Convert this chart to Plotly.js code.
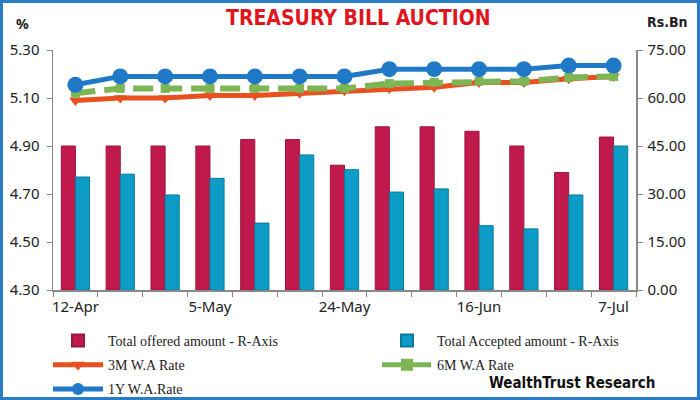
<!DOCTYPE html>
<html>
<head>
<meta charset="utf-8">
<script src="https://cdn.plot.ly/plotly-3.0.1.min.js"></script>
<style>
  html, body { margin: 0; padding: 0; background: #ffffff; }
  #wrap { position: relative; width: 700px; height: 400px; }
  #chart { width: 700px; height: 400px; }
  #frame { position: absolute; left: 0; top: 0; width: 700px; height: 400px; box-sizing: border-box; border: 3px solid #2a7cc7; pointer-events: none; }
</style>
</head>
<body>
<div id="wrap"><div id="chart"></div><div id="frame"></div></div>
<script>
// Auction dates (only every third one is labelled on the axis)
const dates = ["12-Apr","19-Apr","26-Apr","5-May","10-May","17-May","24-May","31-May","7-Jun","16-Jun","21-Jun","28-Jun","7-Jul"];
const shownLabels = ["12-Apr","5-May","24-May","16-Jun","7-Jul"];

// Rs.Bn (right axis)
const totalOffered  = [45, 45, 45, 45, 47, 47, 39, 51, 51, 49.6, 45, 36.7, 47.8];
const totalAccepted = [35.3, 36.2, 29.7, 34.9, 20.9, 42.2, 37.6, 30.6, 31.6, 20.1, 19.1, 29.7, 45];

// % (left axis)
const rate3M = [5.09, 5.10, 5.10, 5.11, 5.11, 5.12, 5.13, 5.14, 5.145, 5.165, 5.165, 5.18, 5.19];
const rate6M = [5.12, 5.14, 5.14, 5.14, 5.14, 5.14, 5.14, 5.16, 5.165, 5.17, 5.17, 5.185, 5.19];
const rate1Y = [5.155, 5.19, 5.19, 5.19, 5.19, 5.19, 5.19, 5.22, 5.22, 5.22, 5.22, 5.235, 5.235];

const tickText = dates.map(d => shownLabels.includes(d) ? d : " ");

const traces = [
  { type: "bar", name: "Total offered amount - R-Axis", x: dates, y: totalOffered, yaxis: "y",
    legend: "legend", legendgroup: "g1",
    marker: { color: "#c0194b", line: { color: "#9e1440", width: 1 } } },
  { type: "bar", name: "Total Accepted amount - R-Axis", x: dates, y: totalAccepted, yaxis: "y",
    legend: "legend2", legendgroup: "g2",
    marker: { color: "#0d9cc5", line: { color: "#0a7a9c", width: 1 } } },
  { type: "scatter", mode: "lines+markers", name: "3M W.A Rate", x: dates, y: rate3M, yaxis: "y2",
    legend: "legend", legendgroup: "g3",
    line: { color: "#e8501f", width: 5 },
    marker: { symbol: "triangle-down", size: 11, color: "#e8501f" } },
  { type: "scatter", mode: "lines+markers", name: "6M W.A Rate", x: dates, y: rate6M, yaxis: "y2",
    legend: "legend2", legendgroup: "g4",
    line: { color: "#7db554", width: 6, dash: "20px,9px" },
    marker: { symbol: "square", size: 9, color: "#7db554" } },
  { type: "scatter", mode: "lines+markers", name: "1Y W.A.Rate", x: dates, y: rate1Y, yaxis: "y2",
    legend: "legend", legendgroup: "g5",
    line: { color: "#2079c7", width: 5 },
    marker: { symbol: "circle", size: 16, color: "#2079c7" } }
];

const axisFont = { family: "Noto Sans, DejaVu Sans, sans-serif", size: 15, color: "#222" };
const legendFont = { family: "Liberation Serif, serif", size: 14, color: "#222" };

// plot area: x 53..636, y 50..290
const px = v => (v - 53) / 583;
const py = v => (290 - v) / 240;

const legendBase = {
  orientation: "v", xref: "container", yref: "container",
  xanchor: "left", yanchor: "top", itemwidth: 50, tracegroupgap: 3, itemsizing: "constant",
  font: legendFont, traceorder: "grouped", bgcolor: "rgba(0,0,0,0)", borderwidth: 0
};

const layout = {
  width: 700, height: 400,
  margin: { l: 53, r: 64, t: 50, b: 110, autoexpand: false },
  paper_bgcolor: "#ffffff", plot_bgcolor: "#ffffff",
  barmode: "group", bargap: 0.37, bargroupgap: 0,
  showlegend: true,
  legend: Object.assign({}, legendBase, { x: 48/700, y: 1 - 325/400 }),
  legend2: Object.assign({}, legendBase, { x: 377/700, y: 1 - 325/400 }),
  xaxis: {
    type: "category", range: [-0.5, 12.5], tickmode: "array", tickvals: dates, ticktext: tickText,
    tickangle: 0, tickson: "boundaries", ticks: "outside", ticklen: 5, tickcolor: "#888",
    showline: true, linecolor: "#888", linewidth: 1.5, showgrid: false,
    tickfont: axisFont, ticklabelstandoff: 2
  },
  yaxis: {
    side: "right", range: [0, 75], tickmode: "array", tickvals: [0, 15, 30, 45, 60, 75],
    tickformat: ".2f", ticks: "outside", ticklen: 5, tickcolor: "#888",
    showline: true, linecolor: "#888", linewidth: 1.5, showgrid: false, zeroline: false,
    tickfont: axisFont, ticklabelstandoff: 2
  },
  yaxis2: {
    overlaying: "y", side: "left", range: [4.30, 5.30],
    tickmode: "array", tickvals: [4.30, 4.50, 4.70, 4.90, 5.10, 5.30],
    tickformat: ".2f", ticks: "outside", ticklen: 5, tickcolor: "#888",
    showline: true, linecolor: "#888", linewidth: 1.5, showgrid: false, zeroline: false,
    tickfont: axisFont, ticklabelstandoff: 4
  },
  annotations: [
    { text: "<b>TREASURY BILL AUCTION</b>", xref: "paper", yref: "paper", x: px(358), y: py(18),
      xanchor: "center", yanchor: "middle", showarrow: false,
      font: { family: "DejaVu Sans Condensed, Liberation Sans Narrow, sans-serif", size: 21, color: "#e0161f" } },
    { text: "<b>%</b>", xref: "paper", yref: "paper", x: px(22), y: py(24),
      xanchor: "center", yanchor: "middle", showarrow: false,
      font: { family: "Noto Sans, sans-serif", size: 14, color: "#222" } },
    { text: "<b>Rs.Bn</b>", xref: "paper", yref: "paper", x: px(667), y: py(22),
      xanchor: "center", yanchor: "middle", showarrow: false,
      font: { family: "DejaVu Sans Condensed, sans-serif", size: 14, color: "#222" } },
    { text: "<b>WealthTrust Research</b>", xref: "paper", yref: "paper", x: px(657), y: py(383),
      xanchor: "right", yanchor: "middle", showarrow: false,
      font: { family: "DejaVu Sans Condensed, sans-serif", size: 15, color: "#111" } }
  ]
};

Plotly.newPlot("chart", traces, layout, { displayModeBar: false, staticPlot: true });
</script>
</body>
</html>
